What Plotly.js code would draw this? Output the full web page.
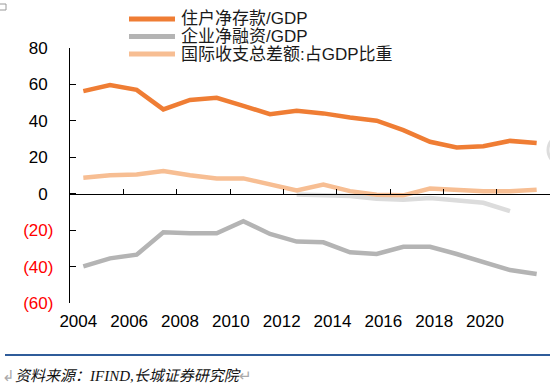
<!DOCTYPE html>
<html>
<head>
<meta charset="utf-8">
<script src="https://cdn.plot.ly/plotly-3.0.1.min.js"></script>
<style>html,body{margin:0;padding:0;background:#fff;}#chart{width:550px;height:385px;}</style>
</head>
<body>
<div id="chart"></div>
<script>
const years = [2004,2005,2006,2007,2008,2009,2010,2011,2012,2013,2014,2015,2016,2017,2018,2019,2020,2021];
const household = [56.3,59.7,57.0,46.3,51.5,52.7,48.2,43.7,45.5,44.1,41.9,40.1,34.9,28.5,25.4,26.1,29.0,27.8];
const corporate = [-39.9,-35.5,-33.5,-21.2,-21.7,-21.7,-15.1,-22.1,-26.3,-26.7,-32.2,-33.1,-29.1,-29.1,-33.1,-37.7,-41.9,-44.1];
const bop = [8.8,10.1,10.5,12.5,10.1,8.4,8.4,5.1,1.8,5.0,1.4,-0.6,-0.9,2.8,1.8,1.3,1.3,2.2];
const extraYears = [2012,2013,2014,2015,2016,2017,2018,2019,2020];
const extra = [-0.4,-0.9,-1.3,-2.8,-3.3,-2.4,-3.7,-5.0,-9.6];
const seriesNames = ['住户净存款/GDP','企业净融资/GDP','国际收支总差额:占GDP比重'];
const yTickVals = [80,60,40,20,0,-20,-40,-60];
const yTickText = ['80','60','40','20','0','(20)','(40)','(60)'];
const xLabelVals = [2004,2006,2008,2010,2012,2014,2016,2018,2020];
const xTickVals = [2005.5,2007.5,2009.5,2011.5,2013.5,2015.5,2017.5,2019.5,2021.5];

const FONT = 'Liberation Sans, Arial, Noto Sans CJK SC, sans-serif';
const colors = ['#EF7D34','#B4B4B4','#F7BE93','#DCDCDC'];
const LW = 4.5;

const traces = [
  {x: extraYears, y: extra, name: '', mode:'lines', line:{color:colors[3], width:LW}, showlegend:false},
  {x: years, y: bop, name: seriesNames[2], mode:'lines', line:{color:colors[2], width:LW}, showlegend:false},
  {x: years, y: corporate, name: seriesNames[1], mode:'lines', line:{color:colors[1], width:LW}, showlegend:false},
  {x: years, y: household, name: seriesNames[0], mode:'lines', line:{color:colors[0], width:LW}, showlegend:false}
];

const ticktext = yTickText.map(t => t.startsWith('(') ? '<span style="color:#FF0000">'+t+'</span>' : t + '<span style="color:rgba(255,255,255,0)">)</span>');

// pixel -> paper helpers (plot area 70..550 x, 48..303 y)
const px = v => (v - 70) / 480;
const py = v => (303 - v) / 255;

const shapes = [];
const annotations = [];
const legendY = [19, 36.5, 54];
[0,1,2].forEach(i => {
  shapes.push({type:'line', xref:'paper', yref:'paper', x0:px(129), x1:px(175), y0:py(legendY[i]), y1:py(legendY[i]), line:{color:colors[i], width:5}});
  annotations.push({xref:'paper', yref:'paper', x:px(179), y:py(legendY[i]), xanchor:'left', yanchor:'middle', text:seriesNames[i], showarrow:false, font:{family:FONT, size:17, color:'#1a1a1a'}});
});
// bottom rule line
shapes.push({type:'line', xref:'paper', yref:'paper', x0:px(5), x1:px(550), y0:py(355), y1:py(355), line:{color:'#2F5C9A', width:2}});
// partial circle at right edge
shapes.push({type:'circle', xref:'paper', yref:'paper', x0:px(548), x1:px(578), y0:py(165), y1:py(135), line:{color:'#DDDDDD', width:3}});
// word anchor mark top-left
shapes.push({type:'path', xref:'paper', yref:'paper', path:'M '+px(0)+' '+py(4)+' L '+px(6)+' '+py(4)+' L '+px(6)+' '+py(10)+' L '+px(0)+' '+py(10), line:{color:'#9a9a9a', width:1}});
// source
annotations.push({xref:'paper', yref:'paper', x:px(0), y:py(376), xanchor:'left', yanchor:'middle', showarrow:false,
  text:'<span style="color:#aaaaaa">↲</span><i>资料来源：IFIND,长城证券研究院</i><span style="color:#aaaaaa">↵</span>', font:{family:'Liberation Serif, Noto Sans CJK SC, serif', size:15, color:'#111'}});

const layout = {
  width:550, height:385,
  margin:{l:70, r:0, t:48, b:82},
  paper_bgcolor:'#fff', plot_bgcolor:'#fff',
  showlegend:false,
  font:{family:FONT, size:17, color:'#000'},
  xaxis:{range:[2003.5,2021.5], anchor:'free', position:60/140, showline:true, linecolor:'#000', linewidth:1.2,
         ticks:'inside', ticklen:5, tickcolor:'#000', tickvals:xTickVals, showticklabels:false, showgrid:false, zeroline:false},
  xaxis2:{overlaying:'x', anchor:'y', side:'bottom', range:[2003.673,2022.556], showline:false, ticks:'', tickvals:xLabelVals,
          ticktext:xLabelVals.map(String), showgrid:false, zeroline:false, tickfont:{family:FONT, size:17, color:'#000'}, ticklabelstandoff:6},
  yaxis:{range:[-60,80], tickvals:yTickVals, ticktext:ticktext, showline:true, linecolor:'#000', linewidth:1.2,
         ticks:'inside', ticklen:6, tickcolor:'#000', showgrid:false, zeroline:false, tickfont:{family:FONT, size:17, color:'#000'}, ticklabelstandoff:12},
  shapes:shapes, annotations:annotations
};
// dummy trace to activate xaxis2
traces.push({x:[2004], y:[null], xaxis:'x2', yaxis:'y', mode:'lines', showlegend:false, hoverinfo:'skip'});

Plotly.newPlot('chart', traces, layout, {staticPlot:true, displayModeBar:false});
</script>
</body>
</html>
